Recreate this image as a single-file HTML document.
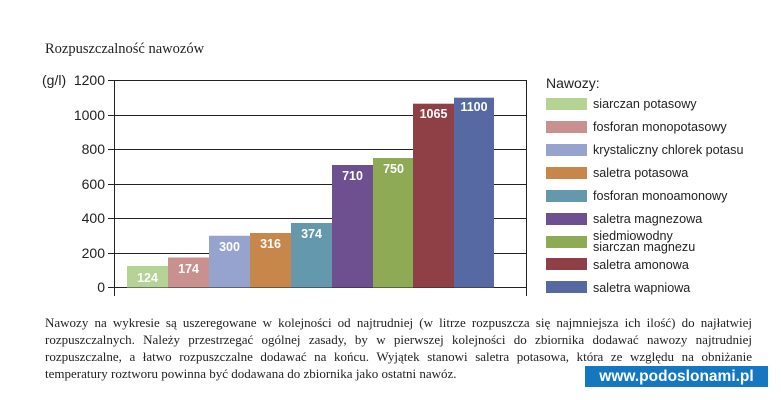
<!DOCTYPE html>
<html><head><meta charset="utf-8"><style>
body{margin:0;background:#fff;width:781px;height:400px;overflow:hidden;position:relative}
.t{position:absolute;left:45px;width:707px;font-family:"Liberation Serif",serif;font-size:13px;color:#222;text-align:justify;text-align-last:justify;white-space:nowrap;line-height:17px}
.wm{position:absolute;left:585px;top:366px;width:183px;height:21px;background:#1577c0;color:#fff;font-family:"Liberation Sans",sans-serif;font-weight:bold;font-size:15.5px;line-height:21px;text-align:center}
</style></head><body>
<svg width="781" height="400" style="position:absolute;left:0;top:0">
<text x="45" y="53" font-family="Liberation Serif" font-size="14.5" fill="#222">Rozpuszczalność nawozów</text>
<g stroke="#222" stroke-width="1">
<line x1="108" y1="80.5" x2="527" y2="80.5"/>
<line x1="108" y1="115.5" x2="527" y2="115.5"/>
<line x1="108" y1="149.5" x2="527" y2="149.5"/>
<line x1="108" y1="184.5" x2="527" y2="184.5"/>
<line x1="108" y1="218.5" x2="527" y2="218.5"/>
<line x1="108" y1="253.5" x2="527" y2="253.5"/>
<line x1="108" y1="287.5" x2="527" y2="287.5"/>
<line x1="114.5" y1="80" x2="114.5" y2="296"/>
<line x1="526.5" y1="80" x2="526.5" y2="296"/>
</g>
<g font-family="Liberation Sans" font-size="14" fill="#222" text-anchor="end">
<text x="105" y="85">1200</text><text x="105" y="120">1000</text><text x="105" y="154">800</text>
<text x="105" y="189">600</text><text x="105" y="223">400</text><text x="105" y="258">200</text><text x="105" y="292">0</text>
</g>
<text x="42" y="85" font-family="Liberation Sans" font-size="14" fill="#222">(g/l)</text>
<g>
<rect x="127" y="266" width="41" height="21.5" fill="#b5d395"/>
<rect x="168" y="257.5" width="41" height="30" fill="#c99090"/>
<rect x="209" y="235.75" width="41" height="51.75" fill="#96a3cf"/>
<rect x="250" y="233" width="41" height="54.5" fill="#c8874a"/>
<rect x="291" y="223" width="41" height="64.5" fill="#6498ad"/>
<rect x="332" y="165" width="41" height="122.5" fill="#6e5090"/>
<rect x="373" y="158" width="41" height="129.5" fill="#8eaa55"/>
<rect x="413" y="103.7" width="41" height="183.8" fill="#8f4046"/>
<rect x="454" y="97.7" width="40" height="189.8" fill="#5669a2"/>
</g>
<g font-family="Liberation Sans" font-weight="bold" font-size="12.5" fill="#fff" text-anchor="middle">
<text x="147.5" y="282">124</text><text x="188.5" y="273">174</text><text x="229.5" y="251">300</text>
<text x="270.5" y="248">316</text><text x="311.5" y="238">374</text><text x="352.5" y="180">710</text>
<text x="393.5" y="173">750</text><text x="433.5" y="118">1065</text><text x="474" y="111">1100</text>
</g>
<text x="546" y="88" font-family="Liberation Sans" font-size="14" fill="#222">Nawozy:</text>
<g>
<rect x="546" y="98" width="41" height="12" fill="#b5d395"/>
<rect x="546" y="121" width="41" height="12" fill="#c99090"/>
<rect x="546" y="144" width="41" height="12" fill="#96a3cf"/>
<rect x="546" y="167" width="41" height="12" fill="#c8874a"/>
<rect x="546" y="190" width="41" height="12" fill="#6498ad"/>
<rect x="546" y="213" width="41" height="12" fill="#6e5090"/>
<rect x="546" y="236" width="41" height="12" fill="#8eaa55"/>
<rect x="546" y="258" width="41" height="12" fill="#8f4046"/>
<rect x="546" y="281" width="41" height="12" fill="#5669a2"/>
</g>
<g font-family="Liberation Sans" font-size="12.6" fill="#222">
<text x="593" y="108">siarczan potasowy</text>
<text x="593" y="131">fosforan monopotasowy</text>
<text x="593" y="154">krystaliczny chlorek potasu</text>
<text x="593" y="177">saletra potasowa</text>
<text x="593" y="200">fosforan monoamonowy</text>
<text x="593" y="223">saletra magnezowa</text>
<text x="593" y="240">siedmiowodny</text>
<text x="593" y="251">siarczan magnezu</text>
<text x="593" y="269">saletra amonowa</text>
<text x="593" y="292">saletra wapniowa</text>
</g>
</svg>
<div class="t" style="top:314px">Nawozy na wykresie są uszeregowane w kolejności od najtrudniej (w litrze rozpuszcza się najmniejsza ich ilość) do najłatwiej</div>
<div class="t" style="top:331px">rozpuszczalnych. Należy przestrzegać ogólnej zasady, by w pierwszej kolejności do zbiornika dodawać nawozy najtrudniej</div>
<div class="t" style="top:348px">rozpuszczalne, a łatwo rozpuszczalne dodawać na końcu. Wyjątek stanowi saletra potasowa, która ze względu na obniżanie</div>
<div class="t" style="top:365px;width:auto;text-align-last:left">temperatury roztworu powinna być dodawana do zbiornika jako ostatni nawóz.</div>
<div class="wm">www.podoslonami.pl</div>
</body></html>
